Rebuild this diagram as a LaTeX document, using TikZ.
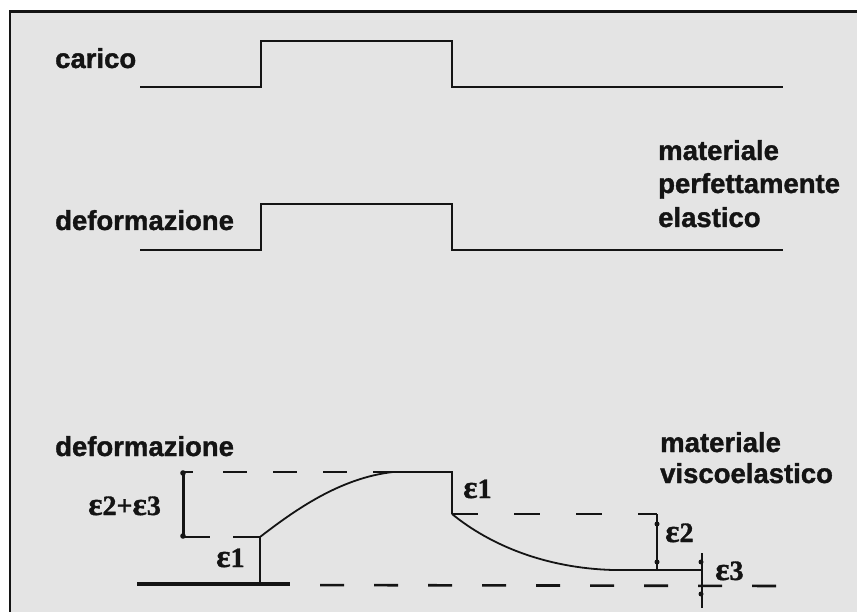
\documentclass[tikz,border=0pt]{standalone}
\usepackage{fontspec}
\usepackage{graphicx}
\setmainfont{Liberation Sans}
\newfontfamily\heavy{Liberation Sans Bold}[FakeBold=1.3]
\newfontfamily\epsfont{Liberation Serif Bold}[FakeBold=1.2]
\definecolor{panel}{HTML}{E4E4E4}
\definecolor{ink}{HTML}{141414}
% wide bold epsilon used in the strain labels
\newcommand\epsg{\scalebox{1.2}[1.15]{ε}}

\tikzset{
  lbl/.style={font=\heavy\fontsize{27.5}{31}\selectfont, text=ink, anchor=base west, inner sep=0pt},
  elbl/.style={font=\epsfont\fontsize{28}{30}\selectfont, text=ink, anchor=base west, inner sep=0pt},
  sig/.style={line width=2.6pt, draw=ink, line join=miter},
  fine/.style={line width=1.3pt, draw=ink},
  curve/.style={line width=1.8pt, draw=ink},
  bar/.style={line width=3pt, draw=ink},
  dot/.style={fill=ink},
}

\begin{document}
\begin{tikzpicture}[x=1pt, y=-1pt]
  \useasboundingbox (0,0) rectangle (857,612);
  \fill[white] (0,0) rectangle (857,612);
  \begin{scope}
    \clip (0,0) rectangle (857,612);
    \filldraw[fill=panel, draw=ink, line width=2.5pt] (10,11.5) rectangle (880,640);
  \end{scope}

  % load step
  \node[lbl] (carico) at (55,68) {carico};
  \draw[sig] (140,87) -- (261,87) -- (261,41) -- (452,41) -- (452,87) -- (783,87);

  % elastic response
  \node[lbl] (def1) at (55,230) {deformazione};
  \draw[sig] (140,250) -- (261,250) -- (261,204) -- (452,204) -- (452,250) -- (783,250);
  \node[lbl] (mat1) at (658,160) {materiale};
  \node[lbl] (mat2) at (658,193) {perfettamente};
  \node[lbl] (mat3) at (658,227) {elastico};

  % viscoelastic response
  \node[lbl] (def2) at (55,456) {deformazione};
  \node[lbl] (vis1) at (660,452) {materiale};
  \node[lbl] (vis2) at (660,483) {viscoelastico};

  % zero level
  \draw[line width=3.5pt, draw=ink] (137,584) -- (290,584);
  \draw[line width=2.6pt, draw=ink, dash pattern=on 24pt off 30pt, dash phase=24pt] (290,585) -- (783,586);

  % instantaneous strain on loading
  \draw[fine] (260,584) -- (260,537);
  \draw[fine, dash pattern=on 27pt off 23pt] (183,537) -- (260,537);

  % creep
  \draw[curve] (260,537) .. controls (295,510) and (340,478) .. (393,472);
  \draw[line width=2pt, draw=ink] (183,472) -- (193,472);
  \draw[line width=2pt, draw=ink, dash pattern=on 24pt off 26pt] (223,472) -- (393,472);
  \draw[line width=2pt, draw=ink] (393,472) -- (452,472) -- (452,514);

  % creep strain bracket
  \draw[bar] (183,473) -- (183,536);
  \fill[dot] (183,473) circle (2.8pt) (183,536) circle (2.8pt);

  % recovery
  \draw[fine, dash pattern=on 26pt off 36pt] (452,514) -- (657,514);
  \draw[curve] (452,514) .. controls (490,545) and (545,568) .. (613,570);
  \draw[line width=1.5pt, draw=ink] (613,570) -- (702,570);
  \draw[line width=1.6pt, draw=ink] (657,514) -- (657,570);
  \fill[dot] (657,524) circle (2.5pt) (657,562) circle (2.5pt);
  \draw[line width=1.2pt, draw=ink] (702,553) -- (702,608);
  \fill[dot] (701,562) circle (2.5pt) (701,594) circle (2.5pt);

  % strain labels
  \node[elbl] (e23) at (88,515) {\epsg2+\epsg3};
  \node[elbl] (e1a) at (216,567) {\epsg1};
  \node[elbl] (e1b) at (463,498) {\epsg1};
  \node[elbl] (e2) at (665,542) {\epsg2};
  \node[elbl] (e3) at (715,580) {\epsg3};
\end{tikzpicture}
\end{document}
